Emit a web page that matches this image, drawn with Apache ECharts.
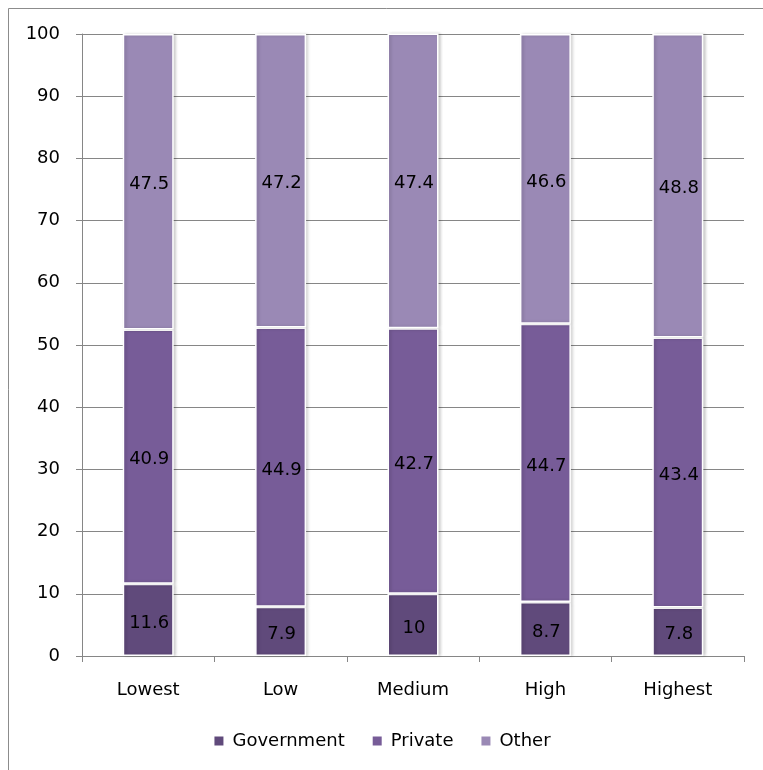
<!DOCTYPE html>
<html>
<head>
<meta charset="utf-8">
<script src="https://cdn.jsdelivr.net/npm/echarts@6/dist/echarts.min.js"></script>
<style>
  html, body { margin: 0; padding: 0; background: #fff; }
  #chart { width: 763px; height: 770px; }
</style>
</head>
<body>
<div id="chart"></div>
<script>
// Share of funding source by income group (percent)
const categories = ['Lowest', 'Low', 'Medium', 'High', 'Highest'];
const government = [11.6, 7.9, 10, 8.7, 7.8];
const privateShare = [40.9, 44.9, 42.7, 44.7, 43.4];
const other = [47.5, 47.2, 47.4, 46.6, 48.8];
const yTicks = [0, 10, 20, 30, 40, 50, 60, 70, 80, 90, 100];

const font = '"DejaVu Sans", sans-serif';
const chart = echarts.init(document.getElementById('chart'), null, { renderer: 'canvas' });

function stackSeries(name, data, color) {
  return {
    name: name,
    type: 'bar',
    stack: 'total',
    data: data,
    barWidth: 51,
    itemStyle: {
      color: color,
      borderColor: '#ffffff',
      borderWidth: 1.5,
      shadowColor: 'rgba(0,0,0,0.18)',
      shadowBlur: 3,
      shadowOffsetX: 2
    },
    label: {
      show: true,
      position: 'inside',
      offset: [1, 3],
      color: '#000',
      fontFamily: font,
      fontSize: 18
    }
  };
}

chart.setOption({
  animation: false,
  backgroundColor: '#fff',
  graphic: [{
    type: 'rect',
    shape: { x: 8.5, y: 8.5, width: 800, height: 800 },
    style: { fill: 'none', stroke: '#8c8c8c', lineWidth: 1 },
    silent: true,
    z: -10
  }],
  grid: { left: 82, right: 19, top: 34, bottom: 114, containLabel: false },
  legend: {
    bottom: 15,
    left: 'center',
    itemWidth: 11,
    itemHeight: 11,
    itemGap: 26,
    icon: 'rect',
    textStyle: { fontFamily: font, fontSize: 18, color: '#000', padding: [0, 0, 0, 3] },
    data: ['Government', 'Private', 'Other']
  },
  xAxis: {
    type: 'category',
    data: categories,
    axisLine: { lineStyle: { color: '#868686', width: 1 } },
    axisTick: { show: true, length: 6, lineStyle: { color: '#868686' } },
    axisLabel: { fontFamily: font, fontSize: 18, color: '#000', margin: 25 }
  },
  yAxis: {
    type: 'value',
    min: yTicks[0],
    max: yTicks[yTicks.length - 1],
    interval: 10,
    axisLine: { show: true, lineStyle: { color: '#868686' } },
    axisTick: { show: true, length: 6, lineStyle: { color: '#868686' } },
    axisLabel: { fontFamily: font, fontSize: 18, color: '#000', margin: 22 },
    splitLine: { lineStyle: { color: '#868686', width: 1 } }
  },
  series: [
    stackSeries('Government', government, '#604a7b'),
    stackSeries('Private', privateShare, '#775c98'),
    stackSeries('Other', other, '#9a89b5')
  ]
});
</script>
</body>
</html>
